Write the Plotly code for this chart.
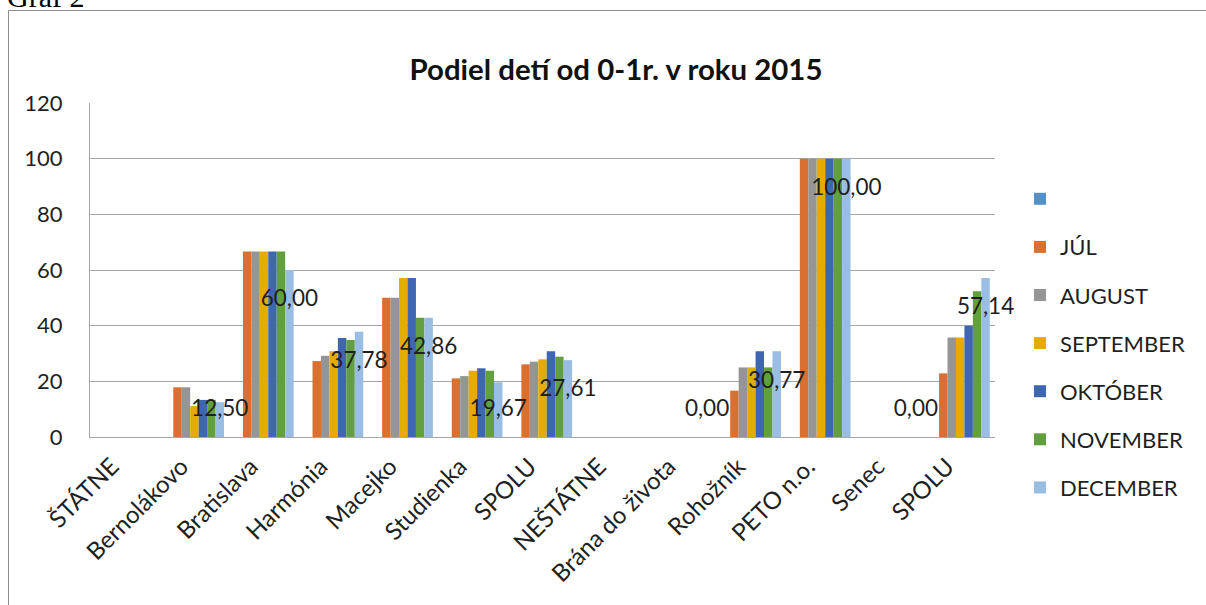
import plotly.graph_objects as go

categories = ["ŠTÁTNE", "Bernolákovo", "Bratislava", "Harmónia", "Macejko", "Studienka",
              "SPOLU", "NEŠTÁTNE", "Brána do života", "Rohožník", "PETO n.o.", "Senec", "SPOLU"]

series_names = ["", "JÚL", "AUGUST", "SEPTEMBER", "OKTÓBER", "NOVEMBER", "DECEMBER"]

blank = [None] * 13
jul = [None, 17.86, 66.67, 27.27, 50.00, 21.05, 26.09, None, 0.00, 16.67, 100.00, 0.00, 22.86]
august = [None, 17.86, 66.67, 29.17, 50.00, 21.88, 27.06, None, 0.00, 25.00, 100.00, 0.00, 35.71]
september = [None, 11.11, 66.67, 30.77, 57.14, 23.81, 27.91, None, 0.00, 25.00, 100.00, 0.00, 35.71]
oktober = [None, 13.33, 66.67, 35.56, 57.14, 24.69, 30.77, None, 0.00, 30.77, 100.00, 0.00, 40.00]
november = [None, 13.33, 66.67, 34.88, 42.86, 23.81, 28.85, None, 0.00, 25.00, 100.00, 0.00, 52.38]
december = [None, 12.50, 60.00, 37.78, 42.86, 19.67, 27.61, None, 0.00, 30.77, 100.00, 0.00, 57.14]

y_ticks = [0, 20, 40, 60, 80, 100, 120]

values = [blank, jul, august, september, oktober, november, december]
colors = ["#5591C9", "#D96F30", "#959595", "#E6AB00", "#3F66B0", "#62A03F", "#99BDE3"]

W, H = 1206, 605
ML, MR, MT, MB = 90, 211, 103, 168
PW, PH = W - ML - MR, H - MT - MB
BARGAP = 0.15
FONT = "Lato"
TXT = "#1f1f1f"


def px_x(px):
    return (px - ML) / PW


def px_y(py):
    return (H - MB - py) / PH


xs = list(range(len(categories)))
fig = go.Figure()
for i, (name, vals, col) in enumerate(zip(series_names, values, colors)):
    fig.add_trace(go.Bar(
        x=xs, y=vals, name=name if name else " ", marker=dict(color=col, line=dict(width=0)),
        legendgroup=f"g{i}", showlegend=True, hoverinfo="x+y",
    ))

# data labels on the DECEMBER bars
n = len(series_names)
w = (1 - BARGAP) / n
off = (n - 1 - (n - 1) / 2) * w
lx, ly, lt = [], [], []
for i, v in enumerate(december):
    if v is None:
        continue
    lx.append(i + off)
    ly.append(max(v - 11, 9.4))
    lt.append(f"{v:.2f}".replace(".", ","))
fig.add_trace(go.Scatter(x=lx, y=ly, text=lt, mode="text", textposition="middle center",
                         textfont=dict(family=FONT, size=22.5, color=TXT),
                         showlegend=False, hoverinfo="skip", cliponaxis=False))

fig.update_layout(
    width=W, height=H,
    margin=dict(l=ML, r=MR, t=MT, b=MB, autoexpand=False),
    paper_bgcolor="white", plot_bgcolor="white",
    barmode="group", bargap=BARGAP, bargroupgap=0,
    font=dict(family=FONT, size=20, color=TXT),
    title=dict(text="<b>Podiel detí od 0-1r. v roku 2015</b>", x=px_x(616), xref="paper",
               xanchor="center", y=1 - 70 / H, yanchor="middle",
               font=dict(family=FONT, size=29.4, color="#111111")),
    xaxis=dict(tickmode="array", tickvals=xs, ticktext=categories, tickangle=-45,
               range=[-0.5, len(categories) - 0.5], showline=True, linecolor="#A6A6A6",
               linewidth=1, showgrid=False, ticks="", tickfont=dict(size=24, color=TXT),
               ticklabelshift=-13, ticklabelstandoff=5),
    yaxis=dict(range=[0, 120], tickvals=y_ticks, showgrid=True, gridcolor="#A6A6A6",
               gridwidth=1, showline=True, linecolor="#A6A6A6", linewidth=1, ticks="",
               zeroline=False, ticklabelstandoff=22, tickfont=dict(size=22, color=TXT)),
    legend=dict(x=px_x(1020), xanchor="left", y=px_y(178), yanchor="top",
                traceorder="grouped", tracegroupgap=16.5, font=dict(size=22, color=TXT),
                itemclick=False, bgcolor="rgba(0,0,0,0)", maxheight=600),
    showlegend=True,
)

# outer chart frame (left and top edges visible)
fig.add_shape(type="line", xref="paper", yref="paper", x0=px_x(8.5), x1=px_x(8.5),
              y0=px_y(10.5), y1=px_y(640), line=dict(color="#8C8C8C", width=1))
fig.add_shape(type="line", xref="paper", yref="paper", x0=px_x(8.5), x1=px_x(1260),
              y0=px_y(10.5), y1=px_y(10.5), line=dict(color="#8C8C8C", width=1))

fig.add_annotation(text="Graf 2", xref="paper", yref="paper", x=px_x(5), y=px_y(15),
                   xanchor="left", yanchor="bottom", showarrow=False,
                   font=dict(family="Liberation Serif", size=30, color="#000000"))

fig.write_html("out.html", config={"displayModeBar": False},
               post_script="document.body.style.margin='0';document.body.style.overflow='hidden';")
